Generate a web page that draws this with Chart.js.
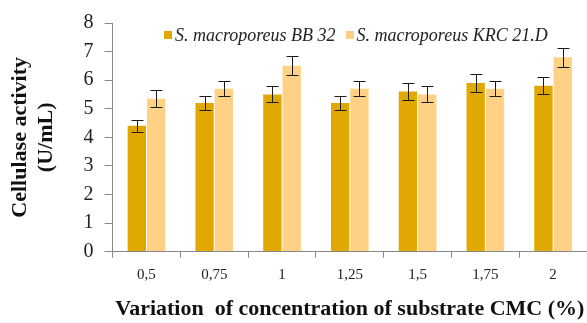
<!DOCTYPE html>
<html>
<head>
<meta charset="utf-8">
<script src="https://cdn.jsdelivr.net/npm/chart.js@4"></script>
<style>
html,body{margin:0;padding:0;background:#fff;}
#wrap{width:587px;height:323px;position:relative;}
</style>
</head>
<body>
<div id="wrap"><canvas id="c" width="587" height="323"></canvas></div>
<script>
const categories = ['0,5', '0,75', '1', '1,25', '1,5', '1,75', '2'];
const seriesNames = ['S. macroporeus BB 32', 'S. macroporeus KRC 21.D'];
const bb32 = [4.4, 5.2, 5.5, 5.2, 5.6, 5.9, 5.8];
const krc21d = [5.35, 5.7, 6.5, 5.7, 5.5, 5.7, 6.8];
const bb32Err = [0.22, 0.26, 0.28, 0.26, 0.29, 0.3, 0.3];
const krc21dErr = [0.3, 0.27, 0.33, 0.27, 0.28, 0.27, 0.33];
const yTicks = [0, 1, 2, 3, 4, 5, 6, 7, 8];
const colors = ['#E0A800', '#FFD184'];

const errors = [bb32Err, krc21dErr];
const errorBars = {
  id: 'errorBars',
  afterDatasetsDraw(chart) {
    const ctx = chart.ctx;
    const y = chart.scales.y;
    ctx.save();
    ctx.strokeStyle = '#1a1a1a';
    ctx.lineWidth = 1;
    chart.data.datasets.forEach((ds, di) => {
      const meta = chart.getDatasetMeta(di);
      meta.data.forEach((bar, i) => {
        const v = ds.data[i], e = errors[di][i];
        const x = Math.round(bar.x) + 0.5;
        const yt = Math.round(y.getPixelForValue(v + e)) + 0.5, yb = Math.round(y.getPixelForValue(v - e)) + 0.5;
        const cw = 6;
        ctx.beginPath();
        ctx.moveTo(x, yt); ctx.lineTo(x, yb);
        ctx.moveTo(x - cw, yt); ctx.lineTo(x + cw, yt);
        ctx.moveTo(x - cw, yb); ctx.lineTo(x + cw, yb);
        ctx.stroke();
      });
    });
    ctx.restore();
  }
};

const topLegend = {
  id: 'topLegend',
  afterDraw(chart) {
    const ctx = chart.ctx;
    const area = chart.chartArea;
    ctx.save();
    ctx.font = 'italic 18px "Liberation Serif", serif';
    ctx.textBaseline = 'middle';
    const box = 8, gapBox = 3, gapItem = 10;
    const widths = seriesNames.map(n => ctx.measureText(n).width);
    const total = widths.reduce((a, w) => a + box + gapBox + w, 0) + gapItem;
    let x = (area.left + area.right) / 2 - total / 2 + 6;
    const yc = area.top + 12;
    seriesNames.forEach((n, i) => {
      ctx.fillStyle = colors[i];
      ctx.fillRect(Math.round(x), Math.round(yc - box / 2), box, box);
      x += box + gapBox;
      ctx.fillStyle = '#222';
      ctx.fillText(n, x, yc + 1);
      x += widths[i] + gapItem;
    });
    ctx.restore();
  }
};

new Chart(document.getElementById('c'), {
  type: 'bar',
  data: {
    labels: categories,
    datasets: [
      { label: seriesNames[0], data: bb32, backgroundColor: colors[0], categoryPercentage: 0.57, barPercentage: 0.95 },
      { label: seriesNames[1], data: krc21d, backgroundColor: colors[1], categoryPercentage: 0.57, barPercentage: 0.95 }
    ]
  },
  options: {
    responsive: false,
    animation: false,
    devicePixelRatio: 1,
    layout: { padding: { top: 4, right: 0, left: 8, bottom: 0 } },
    plugins: {
      tooltip: { enabled: false },
      legend: { display: false }
    },
    scales: {
      x: {
        grid: { display: true, drawOnChartArea: false, offset: true, tickLength: 6, color: '#888' },
        border: { color: '#888', width: 1 },
        ticks: { color: '#222', font: { family: '"Liberation Serif", serif', size: 15 }, padding: 8 },
        title: {
          display: true,
          text: 'Variation  of concentration of substrate CMC (%)',
          color: '#111',
          font: { family: '"Liberation Serif", serif', size: 22, weight: 'bold' },
          padding: { top: 5, bottom: 0 }
        }
      },
      y: {
        min: 0, max: 8,
        afterBuildTicks(axis) { axis.ticks = yTicks.map(v => ({ value: v })); },
        grid: { display: true, drawOnChartArea: false, tickLength: 8, color: '#888' },
        border: { color: '#888', width: 1 },
        ticks: { color: '#222', font: { family: '"Liberation Serif", serif', size: 20 }, padding: 11 },
        title: {
          display: true,
          text: ['Cellulase activity', '(U/mL)'],
          color: '#111',
          font: { family: '"Liberation Serif", serif', size: 22, weight: 'bold', lineHeight: 1.15 },
          padding: { top: 0, bottom: 14 }
        }
      }
    }
  },
  plugins: [errorBars, topLegend]
});
</script>
</body>
</html>
